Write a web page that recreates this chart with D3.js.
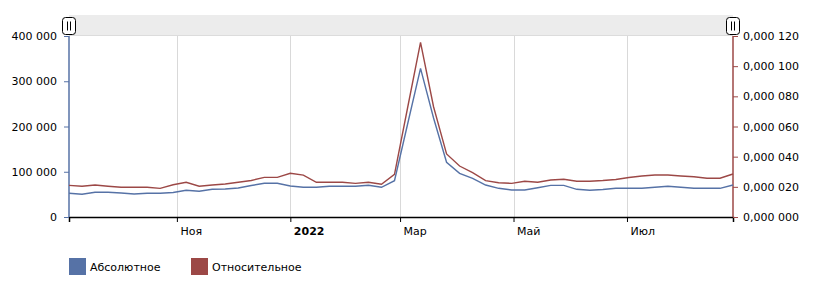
<!DOCTYPE html>
<meta charset="utf-8">
<script src="https://d3js.org/d3.v7.min.js"></script>
<style>
body { margin: 0; background: #fff; }
text { font-family: "DejaVu Sans", Verdana, sans-serif; font-size: 11px; fill: #000; }
.grid line { stroke: #d9d9d9; }
</style>
<body>
<div id="canvas"></div>
<script>

// semanas (uma por ponto)
var dates = [
    "2021-09-04","2021-09-11","2021-09-18","2021-09-25","2021-10-02","2021-10-09","2021-10-16","2021-10-23",
    "2021-10-30","2021-11-06","2021-11-13","2021-11-20","2021-11-27","2021-12-04","2021-12-11","2021-12-18",
    "2021-12-25","2022-01-01","2022-01-08","2022-01-15","2022-01-22","2022-01-29","2022-02-05","2022-02-12",
    "2022-02-19","2022-02-26","2022-03-05","2022-03-12","2022-03-19","2022-03-26","2022-04-02","2022-04-09",
    "2022-04-16","2022-04-23","2022-04-30","2022-05-07","2022-05-14","2022-05-21","2022-05-28","2022-06-04",
    "2022-06-11","2022-06-18","2022-06-25","2022-07-02","2022-07-09","2022-07-16","2022-07-23","2022-07-30",
    "2022-08-06","2022-08-13","2022-08-20","2022-08-27"
];

// Абсолютное (eixo esquerdo)
var absoluto = [
    52400, 50200, 54600, 54600, 53000, 50800, 52400, 52400, 54100, 59000, 56800, 61200, 61900, 64100, 69600, 74500,
    74500, 68500, 65600, 65600, 67800, 67800, 67800, 70000, 65600, 80200, 204400, 328600, 218800, 120900, 96600, 85500,
    70700, 63400, 59700, 59700, 64700, 70000, 70000, 61200, 59000, 60800, 63400, 63400, 63400, 65600, 67800, 65600,
    63400, 63400, 63400, 70700
];

// Относительное (eixo direito)
var relativo = [
    0.0000210, 0.0000204, 0.0000212, 0.0000204, 0.0000197, 0.0000197, 0.0000197, 0.0000190, 0.0000214, 0.0000230,
    0.0000204, 0.0000212, 0.0000219, 0.0000230, 0.0000242, 0.0000263, 0.0000263, 0.0000290, 0.0000278, 0.0000230,
    0.0000230, 0.0000230, 0.0000223, 0.0000230, 0.0000217, 0.0000283, 0.0000721, 0.0001158, 0.0000731, 0.0000418,
    0.0000338, 0.0000294, 0.0000241, 0.0000227, 0.0000223, 0.0000237, 0.0000230, 0.0000245, 0.0000250, 0.0000237,
    0.0000237, 0.0000242, 0.0000249, 0.0000262, 0.0000272, 0.0000278, 0.0000278, 0.0000272, 0.0000267, 0.0000257,
    0.0000257, 0.0000285
];

var monthTicks = ["2021-11-01", "2022-01-01", "2022-03-01", "2022-05-01", "2022-07-01"];
var monthLabels = ["Ноя", "2022", "Мар", "Май", "Июл"];
var leftTicks = [0, 100000, 200000, 300000, 400000];
var rightTicks = [0, 0.00002, 0.00004, 0.00006, 0.00008, 0.0001, 0.00012];
var seriesNames = ["Абсолютное", "Относительное"];
var seriesColors = ["#5672a6", "#9c4846"];

var width = 814;
var height = 292;
var margin = {top: 36, right: 81, bottom: 75, left: 69};
var innerW = width - margin.left - margin.right;
var innerH = height - margin.top - margin.bottom;

var parse = d3.timeParse("%Y-%m-%d");
var data = dates.map(function(d, i) {
    return {date: parse(d), abs: absoluto[i], rel: relativo[i]};
});

var svg = d3.select("#canvas")
    .append("svg")
    .attr("width", width)
    .attr("height", height);

var g = svg.append("g")
    .attr("transform", "translate(" + margin.left + "," + margin.top + ")");

// escalas
var x = d3.scaleTime()
    .domain(d3.extent(data, function(d) { return d.date; }))
    .range([0, innerW]);
var yL = d3.scaleLinear().domain([0, 400000]).range([innerH, 0]);
var yR = d3.scaleLinear().domain([0, 0.00012]).range([innerH, 0]);

// barra de rolagem em cima
g.append("rect")
    .attr("x", 0).attr("y", -21)
    .attr("width", innerW).attr("height", 20)
    .attr("fill", "#ececec");
g.append("line")
    .attr("x1", 0).attr("x2", innerW)
    .attr("y1", -0.5).attr("y2", -0.5)
    .attr("stroke", "#dcdcdc");

var handles = g.selectAll(".handle")
    .data([0, innerW])
    .enter()
    .append("g")
    .attr("class", "handle")
    .attr("transform", function(d) { return "translate(" + d + ",-10)"; });
handles.append("rect")
    .attr("x", -6.5).attr("y", -8.5)
    .attr("width", 13).attr("height", 17)
    .attr("rx", 3)
    .attr("fill", "#fff")
    .attr("stroke", "#000");
handles.selectAll("line")
    .data([-1.5, 1.5])
    .enter()
    .append("line")
    .attr("x1", function(d) { return d; }).attr("x2", function(d) { return d; })
    .attr("y1", -4.5).attr("y2", 4.5)
    .attr("stroke", "#000");

// grade vertical
var ticksX = monthTicks.map(parse);
g.append("g")
    .attr("class", "grid")
    .selectAll("line")
    .data(ticksX)
    .enter()
    .append("line")
    .attr("x1", function(d) { return Math.round(x(d)) + 0.5; })
    .attr("x2", function(d) { return Math.round(x(d)) + 0.5; })
    .attr("y1", 0).attr("y2", innerH);

// eixo X
var xAxis = d3.axisBottom(x)
    .tickValues(ticksX)
    .tickSize(5)
    .tickFormat(function(d, i) { return monthLabels[i]; });
var gx = g.append("g")
    .attr("transform", "translate(0," + innerH + ")")
    .call(xAxis);
gx.select(".domain").attr("stroke", "#000").attr("stroke-width", 1.5);
gx.selectAll(".tick line").attr("stroke", "#000");
gx.selectAll(".tick text")
    .attr("text-anchor", "start")
    .attr("dx", 3)
    .attr("y", 10)
    .style("font-weight", function(d, i) { return monthLabels[i] === "2022" ? "bold" : "normal"; });

// formatos
var fmtLeft = function(v) { return d3.format(",")(v).replace(/,/g, " "); };
var fmtRight = function(v) {
    var s = v.toFixed(6).replace(".", ",");
    return s.slice(0, 5) + " " + s.slice(5);
};

// eixo esquerdo
var gl = g.append("g")
    .call(d3.axisLeft(yL).tickValues(leftTicks).tickSize(5).tickPadding(7).tickFormat(fmtLeft));
gl.select(".domain").attr("stroke", seriesColors[0]).attr("stroke-width", 1.5).attr("d", "M0,0V" + innerH);
gl.selectAll(".tick line").attr("stroke", seriesColors[0]);

// eixo direito
var gr = g.append("g")
    .attr("transform", "translate(" + innerW + ",0)")
    .call(d3.axisRight(yR).tickValues(rightTicks).tickSize(5).tickPadding(5).tickFormat(fmtRight));
gr.select(".domain").attr("stroke", seriesColors[1]).attr("stroke-width", 1.5).attr("d", "M0,0V" + innerH);
gr.selectAll(".tick line").attr("stroke", seriesColors[1]);

g.selectAll(".tick text").style("font-family", "'DejaVu Sans', Verdana, sans-serif").style("font-size", "11px").attr("fill", "#000");

// linhas
var lineAbs = d3.line()
    .x(function(d) { return x(d.date); })
    .y(function(d) { return yL(d.abs); });
var lineRel = d3.line()
    .x(function(d) { return x(d.date); })
    .y(function(d) { return yR(d.rel); });

g.append("path")
    .datum(data)
    .attr("d", lineRel)
    .attr("fill", "none")
    .attr("stroke", seriesColors[1])
    .attr("stroke-width", 1.4);
g.append("path")
    .datum(data)
    .attr("d", lineAbs)
    .attr("fill", "none")
    .attr("stroke", seriesColors[0])
    .attr("stroke-width", 1.4);

// legenda
var legend = svg.selectAll(".legend")
    .data(seriesNames)
    .enter()
    .append("g")
    .attr("class", "legend")
    .attr("transform", function(d, i) { return "translate(" + (69 + i * 122) + ",258)"; });
legend.append("rect")
    .attr("width", 17)
    .attr("height", 17)
    .attr("fill", function(d, i) { return seriesColors[i]; });
legend.append("text")
    .attr("x", 21)
    .attr("y", 13)
    .text(function(d) { return d; });

</script>
</body>
